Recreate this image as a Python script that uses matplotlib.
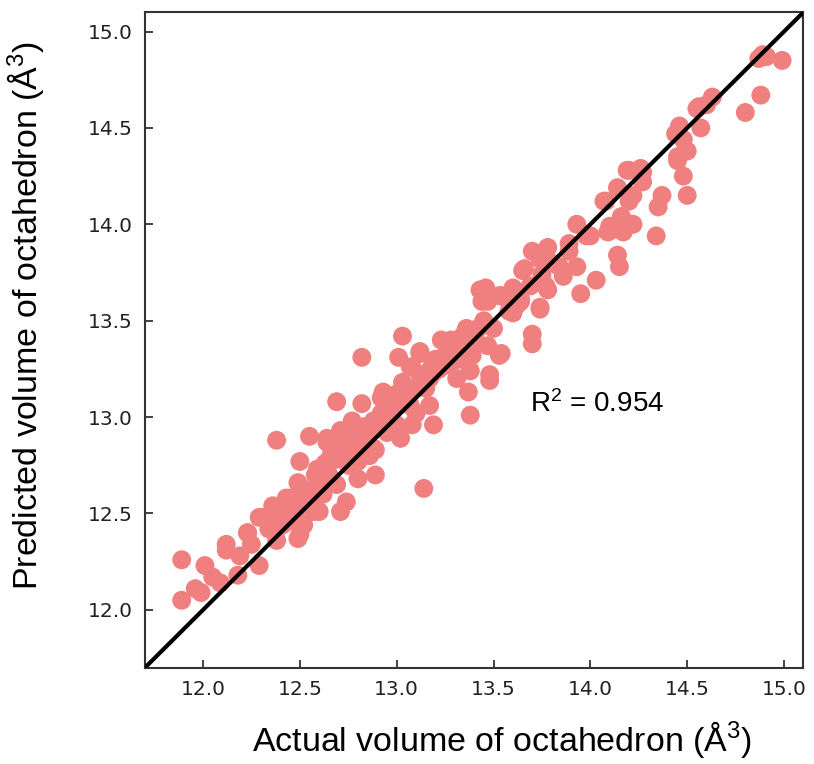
import numpy as np
import matplotlib
matplotlib.use('Agg')
import matplotlib.pyplot as plt

plt.rcParams['mathtext.fontset'] = 'custom'
plt.rcParams['mathtext.rm'] = 'Liberation Sans'
plt.rcParams['mathtext.it'] = 'Liberation Sans:italic'

# actual vs predicted octahedron volume (A^3)
actual = [
    14.89, 14.87, 14.91, 14.99, 14.88, 14.80, 14.63, 14.60, 14.55, 14.57,
    14.46, 14.44, 14.48, 14.50, 14.45, 14.45, 14.27, 14.48, 14.56, 14.49,
    14.50, 14.37, 14.35, 14.34, 14.20, 14.26, 14.27, 14.14, 14.22, 14.20,
    14.07, 14.16, 14.22, 14.10, 14.09, 14.17, 13.93, 14.00, 13.89, 14.19,
    14.08, 13.98, 14.11, 14.17, 14.14, 14.15, 14.03, 13.95, 13.78, 13.70,
    13.89, 13.84, 13.93, 13.86, 13.65, 13.74, 13.75, 13.69, 13.77, 13.60,
    13.54, 13.46, 13.47, 13.64, 13.74, 13.58, 13.66, 13.74, 13.78, 13.74,
    13.64, 13.60, 13.53, 13.43, 13.44, 13.70, 13.70, 13.50, 13.42, 13.36,
    13.34, 13.23, 13.31, 13.41, 13.47, 13.53, 13.39, 13.12, 13.03, 13.20,
    13.26, 13.08, 13.48, 13.38, 13.19, 13.48, 13.37, 13.38, 13.54,
    12.82, 13.01, 13.12, 13.07, 13.03, 12.93, 13.17, 13.29, 13.31, 12.69,
    12.82, 12.95, 13.07, 13.17, 13.19, 13.08, 13.00, 13.02, 12.89, 12.77,
    12.71, 12.64, 12.72, 12.81,
    12.38, 12.55, 12.64, 12.71, 12.50, 12.59, 12.66, 12.74, 12.80, 12.88,
    12.89, 12.80, 12.69, 12.49, 12.45, 12.55, 12.74, 12.71, 12.60, 12.40,
    12.31, 12.41, 12.49, 12.23, 12.50, 13.14,
    11.89, 11.89, 11.96, 11.99, 12.01, 12.05, 12.09, 12.12, 12.12, 12.18,
    12.19, 12.23, 12.25, 12.29, 12.29, 12.34, 12.36, 12.41, 12.38, 12.49,
    12.46, 12.50, 12.43, 12.52, 12.57, 12.52,
    12.60, 12.65, 12.75, 12.85, 12.90, 12.95, 13.05, 13.10, 13.15, 13.22,
    12.98, 12.86, 12.62, 12.55, 12.45, 12.92, 13.00, 13.25, 13.28, 12.78,
    12.68,
    12.58, 12.63, 12.70, 12.76, 12.84, 12.88, 12.96, 13.04, 13.12, 13.18,
    13.24, 13.30, 13.33, 12.52, 12.47, 12.35, 12.92, 13.10, 13.45, 13.56,
    13.62, 13.80, 13.35, 12.73, 12.83,
]
predicted = [
    14.88, 14.86, 14.87, 14.85, 14.67, 14.58, 14.66, 14.62, 14.60, 14.50,
    14.51, 14.47, 14.44, 14.38, 14.35, 14.33, 14.27, 14.25, 14.61, 14.38,
    14.15, 14.15, 14.09, 13.94, 14.28, 14.29, 14.22, 14.19, 14.15, 14.12,
    14.12, 14.04, 14.00, 13.99, 13.96, 13.96, 14.00, 13.94, 13.90, 14.28,
    14.12, 13.94, 13.97, 14.02, 13.84, 13.78, 13.71, 13.64, 13.88, 13.86,
    13.86, 13.78, 13.78, 13.73, 13.76, 13.82, 13.74, 13.68, 13.68, 13.67,
    13.63, 13.67, 13.60, 13.60, 13.56, 13.55, 13.77, 13.70, 13.66, 13.57,
    13.61, 13.54, 13.63, 13.66, 13.60, 13.43, 13.38, 13.46, 13.46, 13.46,
    13.42, 13.40, 13.36, 13.39, 13.37, 13.32, 13.32, 13.33, 13.42, 13.30,
    13.27, 13.26, 13.22, 13.24, 13.23, 13.19, 13.13, 13.01, 13.33,
    13.31, 13.31, 13.34, 13.26, 13.18, 13.13, 13.20, 13.29, 13.20, 13.08,
    13.07, 13.03, 13.06, 13.06, 12.96, 12.96, 12.96, 12.89, 12.83, 12.98,
    12.93, 12.89, 12.87, 12.88,
    12.88, 12.90, 12.87, 12.92, 12.77, 12.73, 12.80, 12.85, 12.77, 12.84,
    12.70, 12.68, 12.65, 12.66, 12.58, 12.56, 12.56, 12.51, 12.51, 12.54,
    12.48, 12.44, 12.46, 12.40, 12.39, 12.63,
    12.26, 12.05, 12.11, 12.09, 12.23, 12.17, 12.14, 12.31, 12.34, 12.18,
    12.28, 12.40, 12.34, 12.23, 12.48, 12.42, 12.54, 12.49, 12.36, 12.37,
    12.46, 12.54, 12.58, 12.62, 12.51, 12.44,
    12.65, 12.70, 12.75, 12.90, 12.95, 12.92, 13.10, 13.15, 13.15, 13.25,
    13.05, 12.80, 12.60, 12.62, 12.52, 13.10, 13.12, 13.32, 13.40, 12.92,
    12.78,
    12.70, 12.76, 12.84, 12.83, 12.86, 12.98, 13.00, 13.08, 13.22, 13.26,
    13.28, 13.35, 13.30, 12.60, 12.52, 12.45, 13.02, 13.02, 13.50, 13.62,
    13.58, 13.80, 13.40, 12.82, 12.95,
]
lims = [11.7, 15.1]
ticks = [12.0, 12.5, 13.0, 13.5, 14.0, 14.5, 15.0]
r2 = 0.954

fig = plt.figure(figsize=(8.14, 7.64), dpi=100)
ax = fig.add_axes([0.178, 0.126, 0.809, 0.858])

ax.scatter(actual, predicted, s=185, color='#F08080', edgecolors='none', zorder=2)
ax.plot(lims, lims, color='black', lw=3, zorder=3)

ax.set_xlim(lims)
ax.set_ylim(lims)
ax.set_xticks(ticks)
ax.set_yticks(ticks)
ax.tick_params(direction='in', length=6, width=1.2, labelsize=14.5, pad=9,
               colors='#222222')
for sp in ax.spines.values():
    sp.set_linewidth(1.5)
    sp.set_color('#333333')

ax.set_xlabel('Actual volume of octahedron (Å$^3$)', fontsize=24.5,
              family='Liberation Sans')
ax.set_ylabel('Predicted volume of octahedron (Å$^3$)', fontsize=24.5,
              family='Liberation Sans')
# labels sit a bit off-centre in the original
ax.xaxis.set_label_coords(0.543, -0.078)
ax.yaxis.set_label_coords(-0.15, 0.538)
ax.text(13.69, 13.07, 'R$^2$ = %.3f' % r2, fontsize=20,
        family='Liberation Sans', va='center', ha='left')

plt.savefig('out.png', dpi=100)
plt.close('all')
